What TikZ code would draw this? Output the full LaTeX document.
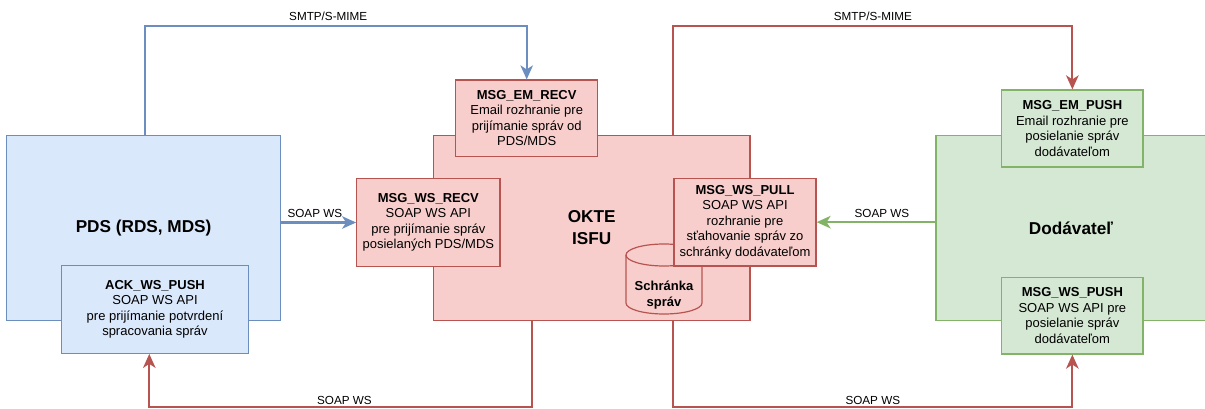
\documentclass[tikz,border=0pt]{standalone}
\usepackage{fontspec}
\setmainfont{Liberation Sans}
\usetikzlibrary{arrows.meta,calc}
\definecolor{bfill}{HTML}{DAE8FC}
\definecolor{bstroke}{HTML}{6C8EBF}
\definecolor{rfill}{HTML}{F8CECC}
\definecolor{rstroke}{HTML}{B85450}
\definecolor{gfill}{HTML}{D5E8D4}
\definecolor{gstroke}{HTML}{82B366}
\newcommand\fsnorm{\fontsize{13}{15.5}\selectfont}
\newcommand\fsbig{\fontsize{17.2}{22}\selectfont\bfseries}
\newcommand\fslab{\fontsize{11.7}{14}\selectfont}
\tikzset{
  basebox/.style={draw, line width=1.2pt, inner sep=2pt, align=center, font=\fsnorm},
  bluebox/.style={basebox, draw=bstroke, fill=bfill},
  redbox/.style={basebox, draw=rstroke, fill=rfill},
  greenbox/.style={basebox, draw=gstroke, fill=gfill},
  edge/.style={line width=2.1pt, -{Stealth[length=14pt,width=12.5pt,inset=4pt]}},
  bedge/.style={edge, draw=bstroke, color=bstroke},
  redge/.style={edge, draw=rstroke, color=rstroke},
  gedge/.style={edge, draw=gstroke, color=gstroke},
  elabel/.style={font=\fslab, text=black, inner sep=0pt, anchor=center}
}
\begin{document}
\begin{tikzpicture}[x=1pt,y=1pt]
\useasboundingbox (0,0) rectangle (1205,-409);
\coordinate (topy) at (0,-25.7);
\coordinate (boty) at (0,-406.7);

% PDS side
\node[bluebox, minimum width=273.8pt, minimum height=185pt, font=\fsbig] (pds) at (143.6,-228) {PDS (RDS, MDS)};
\node[bluebox, minimum width=186.6pt, minimum height=87.6pt] (ack) at (155,-309.5)
  {{\bfseries ACK\_WS\_PUSH}\\SOAP WS API\\pre prijímanie potvrdení\\spracovania správ};

% OKTE ISFU
\node[redbox, minimum width=316.5pt, minimum height=185.2pt, font=\fsbig] (okte) at (591.75,-227.9) {OKTE\\ISFU};
\node[redbox, minimum width=142pt, minimum height=76.5pt] (emrecv) at (526.7,-118.25)
  {{\bfseries MSG\_EM\_RECV}\\Email rozhranie pre\\prijímanie správ od\\PDS/MDS};
\node[redbox, minimum width=143.3pt, minimum height=88.4pt] (wsrecv) at (428.35,-222.5)
  {{\bfseries MSG\_WS\_RECV}\\SOAP WS API\\pre prijímanie správ\\posielaných PDS/MDS};

% cylinder (Schránka správ), behind MSG_WS_PULL
\filldraw[fill=rfill, draw=rstroke, line width=1.2pt]
  (626,-255) -- (626,-303) arc[start angle=180, end angle=360, x radius=38, y radius=11]
  -- (702,-255) arc[start angle=0, end angle=180, x radius=38, y radius=11] -- cycle;
\draw[draw=rstroke, line width=1.2pt] (626,-255) arc[start angle=180, end angle=360, x radius=38, y radius=11];
\node[align=center, font=\fsnorm\bfseries, inner sep=0pt] (cyl) at (664,-295) {Schránka\\správ};

\node[redbox, minimum width=142pt, minimum height=87.7pt] (wspull) at (745,-222.15)
  {{\bfseries MSG\_WS\_PULL}\\SOAP WS API\\rozhranie pre\\sťahovanie správ zo\\schránky dodávateľom};

% Dodavatel side
\node[greenbox, minimum width=270pt, minimum height=185.2pt, font=\fsbig] (dod) at (1071,-228.1) {Dodávateľ};
\node[greenbox, minimum width=141.3pt, minimum height=77pt] (empush) at (1072.35,-128.5)
  {{\bfseries MSG\_EM\_PUSH}\\Email rozhranie pre\\posielanie správ\\dodávateľom};
\node[greenbox, minimum width=141.3pt, minimum height=76.7pt] (wspush) at (1072.35,-315.65)
  {{\bfseries MSG\_WS\_PUSH}\\SOAP WS API pre\\posielanie správ\\dodávateľom};

% connectors
\draw[bedge] ([xshift=1.4pt]pds.north) -- ([xshift=1.4pt]pds.north |- topy) -| (emrecv.north)
  node[elabel, pos=0.24, yshift=9.4pt] {SMTP/S-MIME};
\draw[redge] ([xshift=81.55pt]okte.north) -- ([xshift=81.55pt]okte.north |- topy) -| (empush.north)
  node[elabel, pos=0.25, yshift=9.4pt] {SMTP/S-MIME};
\draw[bedge] (pds.east |- wsrecv.west) -- (wsrecv.west)
  node[elabel, pos=0.45, yshift=9pt] {SOAP WS};
\draw[gedge] (dod.west |- wspull.east) -- (wspull.east)
  node[elabel, pos=0.45, yshift=9pt] {SOAP WS};
\draw[redge] ([xshift=-59.75pt]okte.south) -- ([xshift=-59.75pt]okte.south |- boty) -| ([xshift=-5.7pt]ack.south)
  node[elabel, pos=0.245, yshift=6.3pt] {SOAP WS};
\draw[redge] ([xshift=81.55pt]okte.south) -- ([xshift=81.55pt]okte.south |- boty) -| (wspush.south)
  node[elabel, pos=0.25, yshift=6.3pt] {SOAP WS};
\end{tikzpicture}
\end{document}
